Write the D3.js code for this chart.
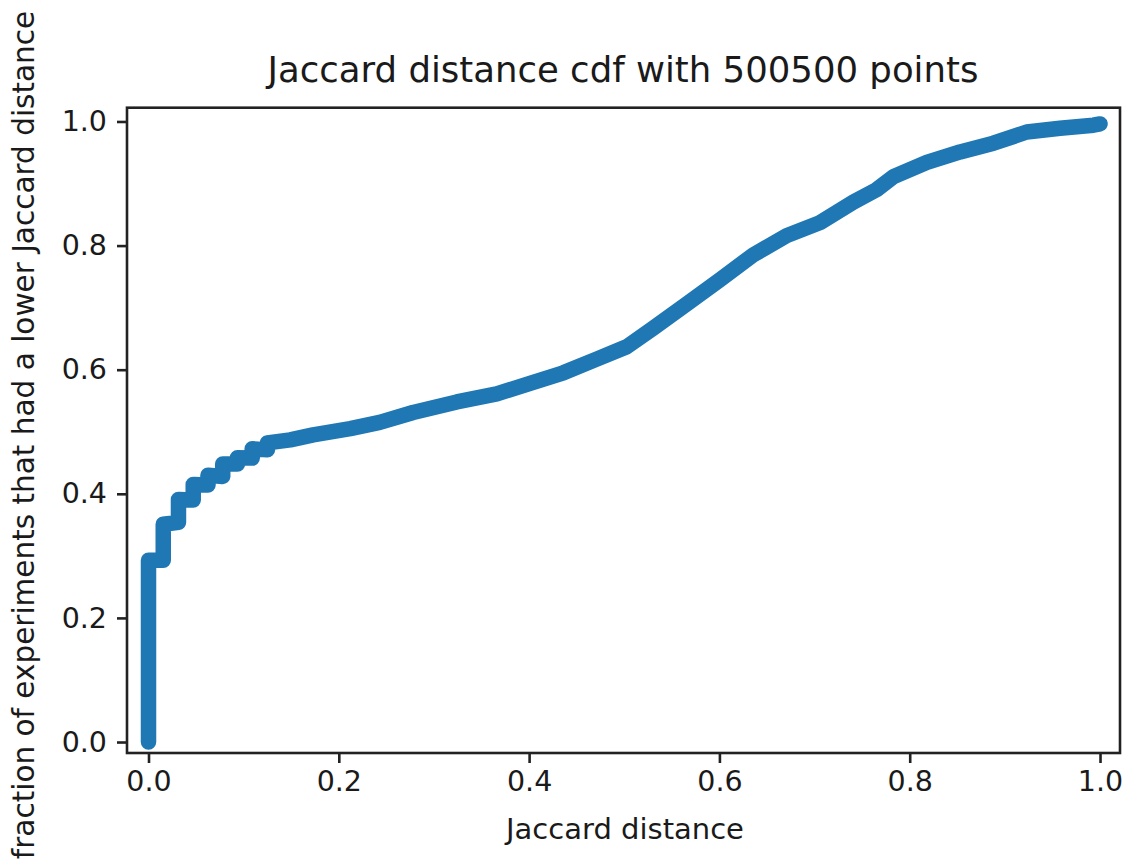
<!DOCTYPE html>
<html>
<head>
<meta charset="utf-8">
<script src="https://cdn.jsdelivr.net/npm/d3@7"></script>
<style>
  body { margin: 0; background: #fff; }
  text { font-family: "DejaVu Sans", sans-serif; fill: #1a1a1a; }
</style>
</head>
<body>
<script>
// cdf points (jaccard distance, fraction below)
const jd = [0, 0, 0.0155, 0.0155, 0.0315, 0.0315, 0.047, 0.047, 0.0625, 0.0625,
  0.078, 0.078, 0.0935, 0.0935, 0.109, 0.109, 0.125, 0.125,
  0.149, 0.173, 0.212, 0.243, 0.278, 0.324, 0.366, 0.401, 0.436, 0.471,
  0.5026, 0.5305, 0.5656, 0.6006, 0.6356, 0.6707, 0.7057, 0.7407, 0.765,
  0.783, 0.818, 0.853, 0.888, 0.923, 0.958, 0.993, 1.0];
const frac = [0, 0.293, 0.293, 0.351, 0.354, 0.391, 0.39, 0.415, 0.414, 0.43,
  0.428, 0.448, 0.448, 0.458, 0.4575, 0.4725, 0.471, 0.482,
  0.487, 0.495, 0.505, 0.515, 0.531, 0.548, 0.561, 0.578, 0.595, 0.617,
  0.637, 0.667, 0.706, 0.745, 0.785, 0.816, 0.837, 0.870, 0.890,
  0.911, 0.934, 0.951, 0.965, 0.983, 0.989, 0.994, 0.996];
const ticks = [0, 0.2, 0.4, 0.6, 0.8, 1.0];

const data = jd.map((d, i) => ({ x: d, y: frac[i] }));

const width = 1127, height = 865;
const box = { left: 127, right: 1120, top: 107.7, bottom: 753 };

const svg = d3.select("body").append("svg")
  .attr("width", width)
  .attr("height", height);

const x = d3.scaleLinear()
  .domain([-0.0226, 1.021])
  .range([box.left, box.right]);

const y = d3.scaleLinear()
  .domain([-0.0177, 1.0222])
  .range([box.bottom, box.top]);

// the curve (thick marker line)
svg.append("path")
  .datum(data)
  .attr("fill", "none")
  .attr("stroke", "#1f77b4")
  .attr("stroke-width", 15.5)
  .attr("stroke-linejoin", "round")
  .attr("stroke-linecap", "round")
  .attr("d", d3.line().x(d => x(d.x)).y(d => y(d.y)));

// axes
const fmt = d3.format(".1f");
const xAxis = svg.append("g")
  .attr("transform", `translate(0,${box.bottom})`)
  .call(d3.axisBottom(x).tickValues(ticks).tickFormat(fmt).tickSize(10).tickSizeOuter(0).tickPadding(8));
const yAxis = svg.append("g")
  .attr("transform", `translate(${box.left},0)`)
  .call(d3.axisLeft(y).tickValues(ticks).tickFormat(fmt).tickSize(10).tickSizeOuter(0).tickPadding(10));

[xAxis, yAxis].forEach(g => {
  g.select(".domain").remove();
  g.selectAll(".tick line").attr("stroke", "#222").attr("stroke-width", 2.6);
  g.selectAll(".tick text").style("font-size", "28.5px").attr("fill", "#1a1a1a");
});

// frame
svg.append("rect")
  .attr("x", box.left)
  .attr("y", box.top)
  .attr("width", box.right - box.left)
  .attr("height", box.bottom - box.top)
  .attr("fill", "none")
  .attr("stroke", "#222")
  .attr("stroke-width", 2.6);

// labels
svg.append("text")
  .attr("x", 623)
  .attr("y", 82)
  .attr("text-anchor", "middle")
  .style("font-size", "35.5px")
  .text("Jaccard distance cdf with 500500 points");

svg.append("text")
  .attr("x", 625)
  .attr("y", 839)
  .attr("text-anchor", "middle")
  .style("font-size", "29px")
  .text("Jaccard distance");

svg.append("text")
  .attr("transform", "translate(34,435) rotate(-90)")
  .attr("text-anchor", "middle")
  .style("font-size", "29.5px")
  .text("fraction of experiments that had a lower Jaccard distance");
</script>
</body>
</html>
